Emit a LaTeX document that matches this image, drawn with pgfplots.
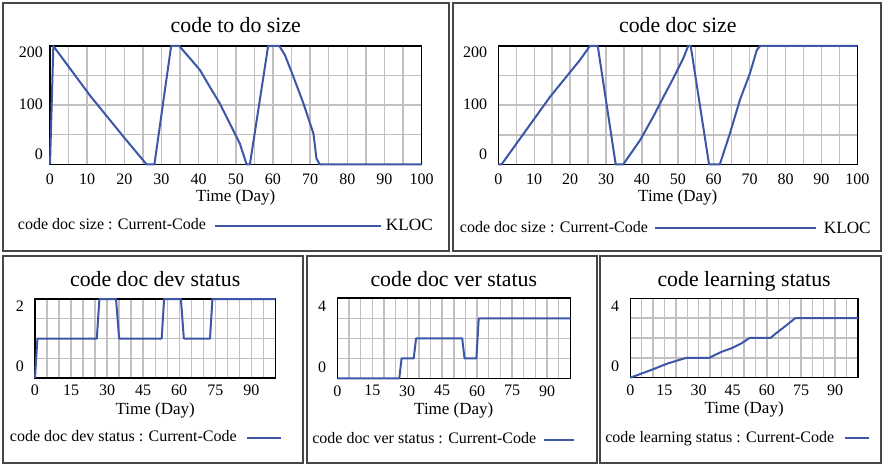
\documentclass[border=0pt]{standalone}
\usepackage{fontspec}
\setmainfont{Liberation Serif}
\usepackage{pgfplots}
\pgfplotsset{compat=1.18}

\definecolor{vblue}{RGB}{60,86,168}
\definecolor{vgrid}{RGB}{192,192,192}
\definecolor{vframe}{RGB}{70,70,70}

\pgfplotsset{
  vensim/.style={
    scale only axis,
    clip=false,
    xmin=0, xmax=100,
    grid=minor,
    minor grid style={vgrid, line width=0.7pt},
    major tick length=0pt, minor tick length=0pt,
    axis line style={black, line width=0.8pt},
    tick label style={font=\fontsize{8}{9}\selectfont},
    /pgf/number format/assume math mode=true,
    minor xtick={0,5,...,100},
    title style={font=\fontsize{10.9}{12}\selectfont, at={(0.5,1)}, anchor=base},
    xlabel={Time (Day)},
    xlabel style={font=\fontsize{8.5}{10}\selectfont, at={(0.5,0)}, anchor=base},
    legend plot pos=right,
    legend style={draw=none, fill=none, inner sep=0pt, outer sep=0pt,
      at={(0,0)}, anchor=west, font=\fontsize{8}{9}\selectfont,
      nodes={inner sep=0pt}},
  },
  bigpanel/.style={
    vensim, height=59.2pt,
    ymin=0, ymax=200,
    xtick={0,10,...,100},
    ytick={0,100,200},
    minor ytick={0,50,...,200},
    yticklabels={{\smash{\raisebox{2.5pt}{0}}},{\smash{\raisebox{-2pt}{100}}},{\smash{\raisebox{-5.8pt}{200}}}},
    xticklabel style={yshift=-1pt},
  },
  smallpanel/.style={
    vensim,
    xtick={0,15,...,90},
    yticklabel style={xshift=-2pt},
  },
}

\begin{document}
\begin{tikzpicture}
\path[use as bounding box] (0,0) rectangle (441pt,-232pt);
\draw[vframe, line width=1pt] (1.5pt,-1.75pt) rectangle (224.25pt,-125.5pt);
\draw[vframe, line width=1pt] (226.5pt,-1.75pt) rectangle (440.5pt,-125.5pt);
\draw[vframe, line width=1pt] (1.35pt,-128pt) rectangle (151.35pt,-231.25pt);
\draw[vframe, line width=1pt] (153.35pt,-128pt) rectangle (298.35pt,-231.25pt);
\draw[vframe, line width=1pt] (300pt,-128pt) rectangle (440.5pt,-231.25pt);

% code to do size
\begin{axis}[bigpanel, at={(25pt,-23pt)}, anchor=north west, width=185.8pt,
  title={code to do size}, title style={yshift=0.75pt},
  xlabel style={yshift=-18.5pt},
  legend style={xshift=-16pt, yshift=-30.9pt},
  legend image code/.code={\path (0pt,0pt); \draw[#1] (4pt,0pt) -- (87pt,0pt);
    \node[anchor=base west, text=black, inner sep=0pt, font=\fontsize{8.6}{10}\selectfont] at (89.5pt,-2.6pt) {KLOC};}]
\addplot[vblue, line width=1pt, line join=round] coordinates {
  (0,0) (0.9,200) (10.8,116) (20,45) (26,0) (28.1,0) (32.6,200) (34.8,200)
  (38.1,176) (40.4,159) (43,131) (45.7,103) (48.4,69) (51.1,35) (52.9,0)
  (53.8,0) (58.7,200) (61.7,200) (63.2,185) (65.5,148) (68.2,103) (70.9,52)
  (71.7,10) (72.6,0) (100,0)};
\addlegendentry{code doc size : Current-Code}
\end{axis}

% code doc size
\begin{axis}[bigpanel, at={(249.15pt,-23pt)}, anchor=north west, width=179.5pt,
  title={code doc size}, title style={yshift=0.85pt},
  yticklabel style={xshift=-2pt},
  xlabel style={yshift=-18.6pt},
  legend style={xshift=-19.2pt, yshift=-32.1pt},
  legend image code/.code={\path (0pt,0pt); \draw[#1] (2.85pt,0pt) -- (83.65pt,0pt);
    \node[anchor=base west, text=black, inner sep=0pt, font=\fontsize{8.6}{10}\selectfont] at (87.5pt,-2.6pt) {KLOC};}]
\addplot[vblue, line width=1pt, line join=round] coordinates {
  (0,0) (0.9,0) (14.4,114) (22.7,176) (25.5,200) (27.7,200) (32.7,0) (34.8,0)
  (39.5,41) (43.2,81) (46,114) (48.7,145) (51.5,179) (52.9,200) (53.6,200)
  (58.7,0) (61.7,0) (64.5,52) (67.3,109) (70.1,154) (72,193) (72.9,200) (100,200)};
\addlegendentry{code doc size : Current-Code}
\end{axis}

% code doc dev status
\begin{axis}[smallpanel, at={(17.5pt,-149.5pt)}, anchor=north west,
  width=120.2pt, height=39.5pt,
  ymin=0, ymax=2, ytick={0,2}, minor ytick={0,0.5,...,2},
  yticklabels={{\smash{\raisebox{3pt}{0}}},{\smash{\raisebox{-6.3pt}{2}}}},
  title={code doc dev status}, title style={yshift=0.5pt},
  xlabel style={yshift=-18pt},
  legend style={xshift=-12.5pt, yshift=-29.9pt},
  legend image code/.code={\path (0pt,0pt); \draw[#1] (4.7pt,0pt) -- (21.7pt,0pt);}]
\addplot[vblue, line width=1pt, line join=round] coordinates {
  (0,0) (1,1) (25.7,1) (26.8,2) (33.7,2) (35,1) (52.7,1) (53.7,2) (60.7,2)
  (61.9,1) (72.8,1) (73.8,2) (100,2)};
\addlegendentry{code doc dev status : Current-Code}
\end{axis}

% code doc ver status
\begin{axis}[smallpanel, at={(168.65pt,-149.15pt)}, anchor=north west,
  width=116.5pt, height=40pt,
  ymin=0, ymax=4, ytick={0,4}, minor ytick={0,1,...,4},
  yticklabels={{\smash{\raisebox{3pt}{0}}},{\smash{\raisebox{-6.7pt}{4}}}},
  title={code doc ver status}, title style={yshift=-0.2pt},
  xlabel style={yshift=-18.2pt},
  legend style={xshift=-12.5pt, yshift=-30.6pt},
  legend image code/.code={\path (0pt,0pt); \draw[#1] (3.35pt,0pt) -- (18.35pt,0pt);}]
\addplot[vblue, line width=1pt, line join=round] coordinates {
  (0,0) (26.6,0) (27.6,1) (32.8,1) (33.8,2) (53.6,2) (54.6,1) (59.7,1)
  (60.7,3) (100,3)};
\addlegendentry{code doc ver status : Current-Code}
\end{axis}

% code learning status
\begin{axis}[smallpanel, at={(315.15pt,-149.15pt)}, anchor=north west,
  width=113.8pt, height=39.7pt,
  ymin=0, ymax=4, ytick={0,4}, minor ytick={0,1,...,4},
  yticklabels={{\smash{\raisebox{3pt}{0}}},{\smash{\raisebox{-6.4pt}{4}}}},
  title={code learning status}, title style={yshift=0pt},
  xlabel style={yshift=-17.7pt},
  legend style={xshift=-12.5pt, yshift=-30.2pt},
  legend image code/.code={\path (0pt,0pt); \draw[#1] (4.7pt,0pt) -- (16.7pt,0pt);}]
\addplot[vblue, line width=1pt, line join=round] coordinates {
  (0,0) (9.2,0.39) (16.5,0.72) (24.6,1) (34.6,1) (40,1.3) (44.4,1.48)
  (48.8,1.73) (52.4,2) (61.6,2) (63.4,2.18) (67.8,2.57) (72.5,3) (100,3)};
\addlegendentry{code learning status : Current-Code}
\end{axis}
\end{tikzpicture}
\end{document}
